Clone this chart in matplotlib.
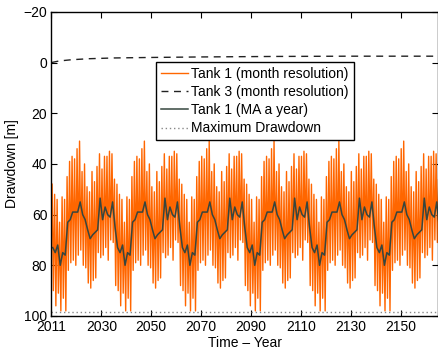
import numpy as np
import matplotlib
matplotlib.use('Agg')
from matplotlib import pyplot as plt

plt.rcParams['font.family'] = ['Liberation Sans', 'DejaVu Sans']
plt.rcParams['font.size'] = 10

# one 26-year climate cycle (the series repeats itself), drawdown in m
cycleTop = [48, 52, 54, 63, 53, 54, 45, 39, 37, 38, 34, 31, 43,
            40, 49, 51, 43, 47, 41, 36, 42, 37, 37, 35, 36, 46]
cycleBottom = [90, 96, 91, 98, 93, 98, 82, 79, 78, 80, 76, 74, 80,
               81, 87, 89, 86, 85, 75, 77, 76, 73, 78, 70, 71, 88]
cycleMA = [73, 75, 72, 80, 75, 76, 63, 62, 59, 59, 59, 55, 60,
           62, 66, 69.5, 68, 67, 66, 53.5, 62, 57, 60, 61, 55, 65]
nCycles = 6
startYear = 2010

# tank 3, read at a few years
tank3Years = [2010, 2013, 2018, 2025, 2035, 2050, 2070, 2100, 2130, 2165]
tank3Values = [0.0, -0.6, -1.1, -1.5, -1.8, -2.0, -2.2, -2.4, -2.5, -2.5]

maxDrawdown = 98.5

xTicks = [2010, 2030, 2050, 2070, 2090, 2110, 2130, 2150]
xTickLabels = ['2011', '2030', '2050', '2070', '2090', '2110', '2130', '2150']
yTicks = [-20, 0, 20, 40, 60, 80, 100]

years = startYear + np.arange(26 * nCycles)
top = np.tile(cycleTop, nCycles)
bottom = np.tile(cycleBottom, nCycles)
ma = np.tile(cycleMA, nCycles)

monthX = np.empty(2 * len(years))
monthY = np.empty(2 * len(years))
monthX[0::2] = years + 0.25
monthX[1::2] = years + 0.75
monthY[0::2] = top
monthY[1::2] = bottom

fig = plt.figure(figsize=(4.39, 3.48), dpi=100)
ax = fig.add_axes([0.1173, 0.092, 0.8804, 0.874])

ax.plot(monthX, monthY, color='#ff6600', lw=1.0, label='Tank 1 (month resolution)')
ax.plot(tank3Years, tank3Values, color='#222222', lw=1.0, ls=(0, (5, 4)),
        label='Tank 3 (month resolution)')
ax.plot(years + 0.5, ma, color='#36463f', lw=1.1, label='Tank 1 (MA a year)')
ax.axhline(maxDrawdown, color='#888888', lw=1.0, ls=(0, (1, 2)),
           label='Maximum Drawdown')

ax.set_xlim(2010, 2165)
ax.set_ylim(100, -20)
ax.set_xticks(xTicks)
ax.set_xticklabels(xTickLabels)
ax.set_yticks(yTicks)
ax.tick_params(direction='in', length=4, top=True, right=True, pad=3)
for s in ax.spines.values():
    s.set_linewidth(1.0)

ax.set_xlabel('Time \u2013 Year', labelpad=1)
ax.set_ylabel('Drawdown [m]', labelpad=3)

leg = ax.legend(loc='upper left', bbox_to_anchor=(0.270, 0.835), borderaxespad=0,
                fancybox=False, framealpha=1, edgecolor='black',
                handlelength=2.0, handletextpad=0.2, labelspacing=0.3,
                borderpad=0.35)
leg.get_frame().set_linewidth(1.0)

fig.savefig('out.png', dpi=100)
